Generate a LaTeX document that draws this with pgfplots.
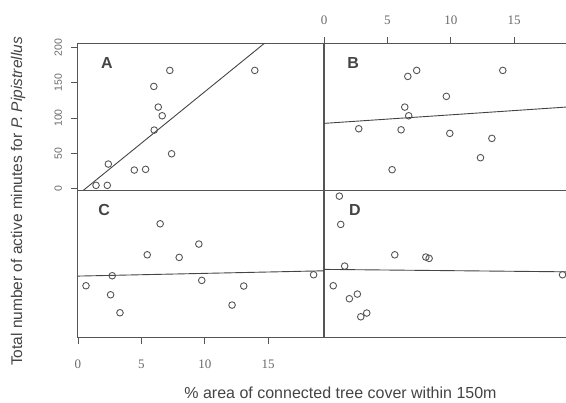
\documentclass[border=0pt]{standalone}
\usepackage{pgfplots}
\pgfplotsset{compat=1.18}
\usepackage{fontspec}
\setmainfont{Liberation Sans}
\newfontfamily\serifnum{Liberation Serif}
\definecolor{linegray}{HTML}{555555}
\definecolor{textgray}{HTML}{444444}
\definecolor{markgray}{HTML}{555555}
\begin{document}
\begin{tikzpicture}
\useasboundingbox (0,0) rectangle (566pt,403pt);
\pgfplotsset{panel/.style={scale only axis, width=246pt, height=147pt,
  xmin=0, xmax=19.4, ymin=-3.5, ymax=205,
  axis line style={draw=linegray, line width=1pt},
  xtick=\empty, ytick=\empty, anchor=north west,
  /pgf/number format/assume math mode=true,
  tick style={draw=linegray, line width=0.9pt},
  major tick length=6.5pt, tick align=outside,
  xticklabel style={font=\serifnum\fontsize{13}{13}\selectfont, text=textgray!80},
  yticklabel style={font=\fontsize{10.5}{10.5}\selectfont, text=textgray!80},
  pts/.style={only marks, mark=o, mark size=3.3pt, mark options={draw=markgray, line width=0.9pt}},
  reg/.style={no marks, draw=textgray, line width=0.9pt}}}
% Panel A
\begin{axis}[panel, at={(78pt,359pt)}, ytick={0,50,100,150,200}, ytick pos=left,
  yticklabel style={rotate=90, anchor=south, yshift=6pt}]
\addplot[pts] coordinates {(7.24,167.5) (13.94,167.5) (5.98,144.8) (6.33,115.5) (6.64,103.2) (6.01,82.9) (7.38,49.3) (2.39,34.7) (4.44,26.2) (5.33,27.2) (1.42,4.5) (2.31,4.5)};
\addplot[reg] coordinates {(0,-8.7) (14.8,207.4)};
\node[font=\bfseries\fontsize{16}{16}\selectfont, text=textgray] at (rel axis cs:0.117,0.869) {A};
\end{axis}
% Panel B
\begin{axis}[panel, at={(324pt,359pt)}, xtick={0,5,10,15}, xtick pos=right, xticklabel pos=right,
  xticklabel style={yshift=9pt}]
\addplot[pts] coordinates {(7.31,167.5) (6.61,159) (14.1,167.5) (9.65,130.7) (6.37,115.5) (6.68,103.2) (2.74,84.8) (6.08,83.3) (9.92,78.2) (13.24,71.1) (12.34,43.7) (5.37,26.7)};
\addplot[reg] coordinates {(0,92.4) (19.4,115.9)};
\node[font=\bfseries\fontsize{16}{16}\selectfont, text=textgray] at (rel axis cs:0.119,0.869) {B};
\end{axis}
% Panel C
\begin{axis}[panel, at={(78pt,212pt)}, xtick={0,5,10,15}, xtick pos=left, xticklabel pos=left,
  xticklabel style={yshift=-12pt}]
\addplot[pts] coordinates {(6.48,158.5) (9.53,129.7) (5.46,114.5) (7.98,110.8) (2.70,84.8) (0.63,70.6) (9.76,78.2) (13.07,70.2) (18.58,86.2) (2.57,57.8) (12.15,43.2) (3.31,32.3)};
\addplot[reg] coordinates {(0,84.3) (19.4,91.8)};
\node[font=\bfseries\fontsize{16}{16}\selectfont, text=textgray] at (rel axis cs:0.106,0.868) {C};
\end{axis}
% Panel D
\begin{axis}[panel, at={(324pt,212pt)}]
\addplot[pts] coordinates {(1.21,197.7) (1.32,157.6) (5.58,114.5) (8.03,111.3) (8.29,109.4) (1.63,98.5) (18.81,86.2) (0.73,70.6) (2.63,58.8) (2.0,52.2) (3.37,31.9) (2.90,26.6)};
\addplot[reg] coordinates {(0,93.8) (19.4,90.3)};
\node[font=\bfseries\fontsize{16}{16}\selectfont, text=textgray] at (rel axis cs:0.126,0.871) {D};
\end{axis}
\node[rotate=90, font=\fontsize{15.5}{15.5}\selectfont, text=textgray] at (18pt,201.5pt) {Total number of active minutes for \textit{P. Pipistrellus}};
\node[font=\fontsize{16}{16}\selectfont, text=textgray] at (340.5pt,10pt) {\% area of connected tree cover within 150m};
\end{tikzpicture}
\end{document}
